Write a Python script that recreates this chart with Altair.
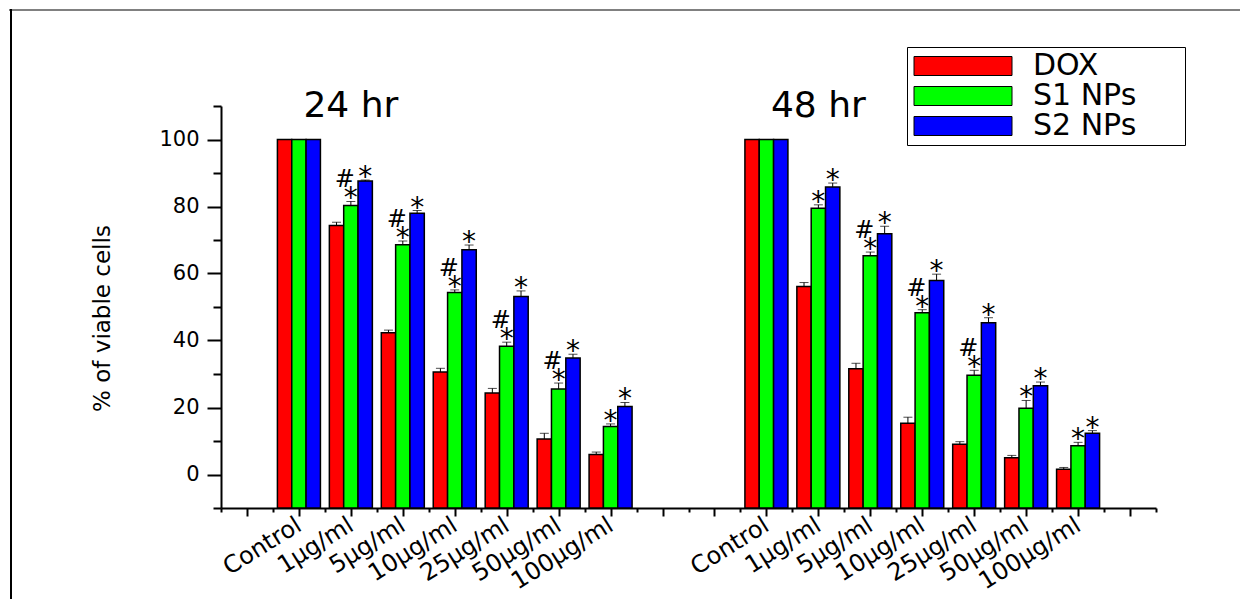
import json
import altair as alt
import pandas as pd

FONT = "DejaVu Sans"

# ---------------- data ----------------
concentrations = ["Control", "1µg/ml", "5µg/ml", "10µg/ml", "25µg/ml", "50µg/ml", "100µg/ml"]
series_names = ["DOX", "S1 NPs", "S2 NPs"]
series_colors = ["#FF0000", "#00FF00", "#0000FF"]
periods = ["24 hr", "48 hr"]

dox_24 = [100, 74.3, 42.3, 30.6, 24.3, 10.6, 6.0]
dox_24_err = [0, 1.0, 0.8, 1.1, 1.4, 1.7, 0.7]
s1_24 = [100, 80.3, 68.6, 54.3, 38.3, 25.5, 14.3]
s1_24_err = [0, 1.2, 1.1, 0.8, 1.2, 1.8, 0.8]
s2_24 = [100, 87.6, 78.0, 67.1, 53.1, 34.8, 20.3]
s2_24_err = [0, 0.3, 0.8, 1.4, 1.7, 1.1, 1.2]

dox_48 = [100, 56.1, 31.6, 15.3, 9.0, 5.0, 1.6]
dox_48_err = [0, 1.2, 1.6, 1.8, 0.8, 0.7, 0.5]
s1_48 = [100, 79.5, 65.3, 48.3, 29.6, 19.8, 8.6]
s1_48_err = [0, 1.0, 1.1, 0.9, 1.5, 2.3, 1.0]
s2_48 = [100, 85.8, 71.9, 57.9, 45.3, 26.5, 12.3]
s2_48_err = [0, 1.2, 2.2, 1.9, 1.5, 1.1, 0.8]

# significance marks: "*" on S1/S2 for every dose, "#" on S1 where shown
hash_24 = [False, True, True, True, True, True, False]
hash_48 = [False, False, True, True, True, False, False]

# x slots: 18 positions, 24 hr group at 1..7, 48 hr group at 10..16
period_start_slot = [1, 10]
n_slots = 18
x_min, x_max = -0.5, n_slots - 0.5
y_min, y_max = -10, 110

# ---------------- table ----------------
values = {"24 hr": [dox_24, s1_24, s2_24], "48 hr": [dox_48, s1_48, s2_48]}
errors = {"24 hr": [dox_24_err, s1_24_err, s2_24_err], "48 hr": [dox_48_err, s1_48_err, s2_48_err]}
hashes = {"24 hr": hash_24, "48 hr": hash_48}

rows = []
for p_i, period in enumerate(periods):
    for s_i, s in enumerate(series_names):
        for c_i, c in enumerate(concentrations):
            rows.append(dict(
                period=period, conc=c, series=s, sidx=s_i,
                slot=period_start_slot[p_i] + c_i,
                value=values[period][s_i][c_i],
                err=errors[period][s_i][c_i],
                star=(s_i > 0 and c_i > 0),
                hash=(s_i == 1 and hashes[period][c_i]),
            ))
df = pd.DataFrame(rows)

slot_labels = [""] * n_slots
for start in period_start_slot:
    for c_i, c in enumerate(concentrations):
        slot_labels[start + c_i] = c

period_df = pd.DataFrame({"period": periods, "slot": [s + 1 for s in period_start_slot]})

# ---------------- scales & axes ----------------
bar_w = 0.276
group_half = 0.414

x_scale = alt.Scale(domain=[x_min, x_max], nice=False, zero=False)
y_scale = alt.Scale(domain=[y_min, y_max], nice=False, zero=False)

x_tick_values = [x_min + 0.5 * i for i in range(2 * n_slots + 1)]
x_axis = alt.Axis(
    values=x_tick_values,
    labelExpr="datum.value % 1 === 0 ? " + json.dumps(slot_labels, ensure_ascii=False) + "[datum.value] : ''",
    tickSize={"condition": {"test": "datum.value % 1 === 0", "value": 8}, "value": 4},
    labelAngle=-32, labelAlign="right", labelBaseline="middle", labelPadding=7,
    labelFont=FONT, labelFontSize=24, labelColor="black",
    labelOverlap=False, labelFlush=False,
    title=None, grid=False,
    domainColor="black", domainWidth=2, tickColor="black", tickWidth=2,
)

y_axis = alt.Axis(
    values=list(range(y_min, y_max + 1, 10)),
    labelExpr="datum.value % 20 === 0 ? datum.label : ''",
    tickSize={"condition": {"test": "datum.value % 20 === 0", "value": 14}, "value": 8},
    labelFont=FONT, labelFontSize=21, labelColor="black", labelPadding=8,
    title="% of viable cells", titleFont=FONT, titleFontSize=23, titleFontWeight="normal",
    titleColor="black", titleAngle=-90, titleAlign="center", titleBaseline="middle",
    titleX=-119, titleY=212,
    grid=False, domainColor="black", domainWidth=2, tickColor="black", tickWidth=2,
)

legend = alt.Legend(
    orient="none", legendX=686, legendY=-59, title=None,
    strokeColor="black", fillColor="white", padding=4,
    labelFont=FONT, labelFontSize=30, labelColor="black", labelOffset=92,
    labelExpr="datum.label + '\u2800\u2800'",
    symbolType="M-1.2,-0.95L8.6,-0.95L8.6,0.95L-1.2,0.95Z", symbolSize=400,
    symbolStrokeColor="black", symbolStrokeWidth=1, rowPadding=-2,
)

X = lambda f: alt.X(f, scale=x_scale, axis=x_axis)
Y = lambda f: alt.Y(f, scale=y_scale, axis=y_axis)

base = alt.Chart(df).transform_calculate(
    xl=f"datum.slot - {group_half} + datum.sidx * {bar_w}",
    xr=f"datum.slot - {group_half} + (datum.sidx + 1) * {bar_w}",
    xc=f"datum.slot - {group_half} + (datum.sidx + 0.5) * {bar_w}",
    top="datum.value + datum.err",
)

bars = base.mark_bar(stroke="black", strokeWidth=1.5).encode(
    x=X("xl:Q"),
    x2="xr:Q",
    y=Y("value:Q"),
    y2=alt.datum(y_min),
    color=alt.Color("series:N", scale=alt.Scale(domain=series_names, range=series_colors), legend=legend),
)

err_base = base.transform_filter("datum.err > 0")
err_rules = err_base.mark_rule(color="black", strokeWidth=1).encode(
    x=X("xc:Q"), y=Y("value:Q"), y2="top:Q",
)
err_caps = err_base.mark_tick(orient="horizontal", size=9, thickness=1, color="black").encode(
    x=X("xc:Q"), y=Y("top:Q"),
)

stars = base.transform_filter("datum.star").mark_text(
    text="*", font=FONT, fontSize=28, baseline="alphabetic", dy=6, color="black"
).encode(x=X("xc:Q"), y=Y("top:Q"))

hash_marks = base.transform_filter("datum.hash").mark_text(
    text="#", font=FONT, fontSize=24, baseline="alphabetic", dy=-14, dx=-6, color="black"
).encode(x=X("xc:Q"), y=Y("top:Q"))

period_text = alt.Chart(period_df).mark_text(
    font=FONT, fontSize=36, baseline="middle", color="black"
).encode(
    x=X("slot:Q"),
    y=alt.Y(datum=y_max, scale=y_scale, axis=y_axis),
    text="period:N",
)

frame_df = pd.DataFrame({"k": [0]})
frame_top = alt.Chart(frame_df).mark_rule(color="#808080", strokeWidth=2).encode(
    x=alt.value(-212), x2=alt.value(1030), y=alt.value(-96)
)
frame_left = alt.Chart(frame_df).mark_rule(color="black", strokeWidth=2).encode(
    x=alt.value(-210), y=alt.value(-97), y2=alt.value(500)
)

chart = alt.layer(
    frame_top, frame_left, bars, err_rules, err_caps, stars, hash_marks, period_text
).properties(
    width=935, height=402,
    autosize=alt.AutoSizeParams(type="none"),
    padding={"left": 213, "top": 98, "right": 84, "bottom": 91},
).configure_view(stroke=None)

chart.save("out.html", embed_options={"renderer": "svg", "actions": False})
